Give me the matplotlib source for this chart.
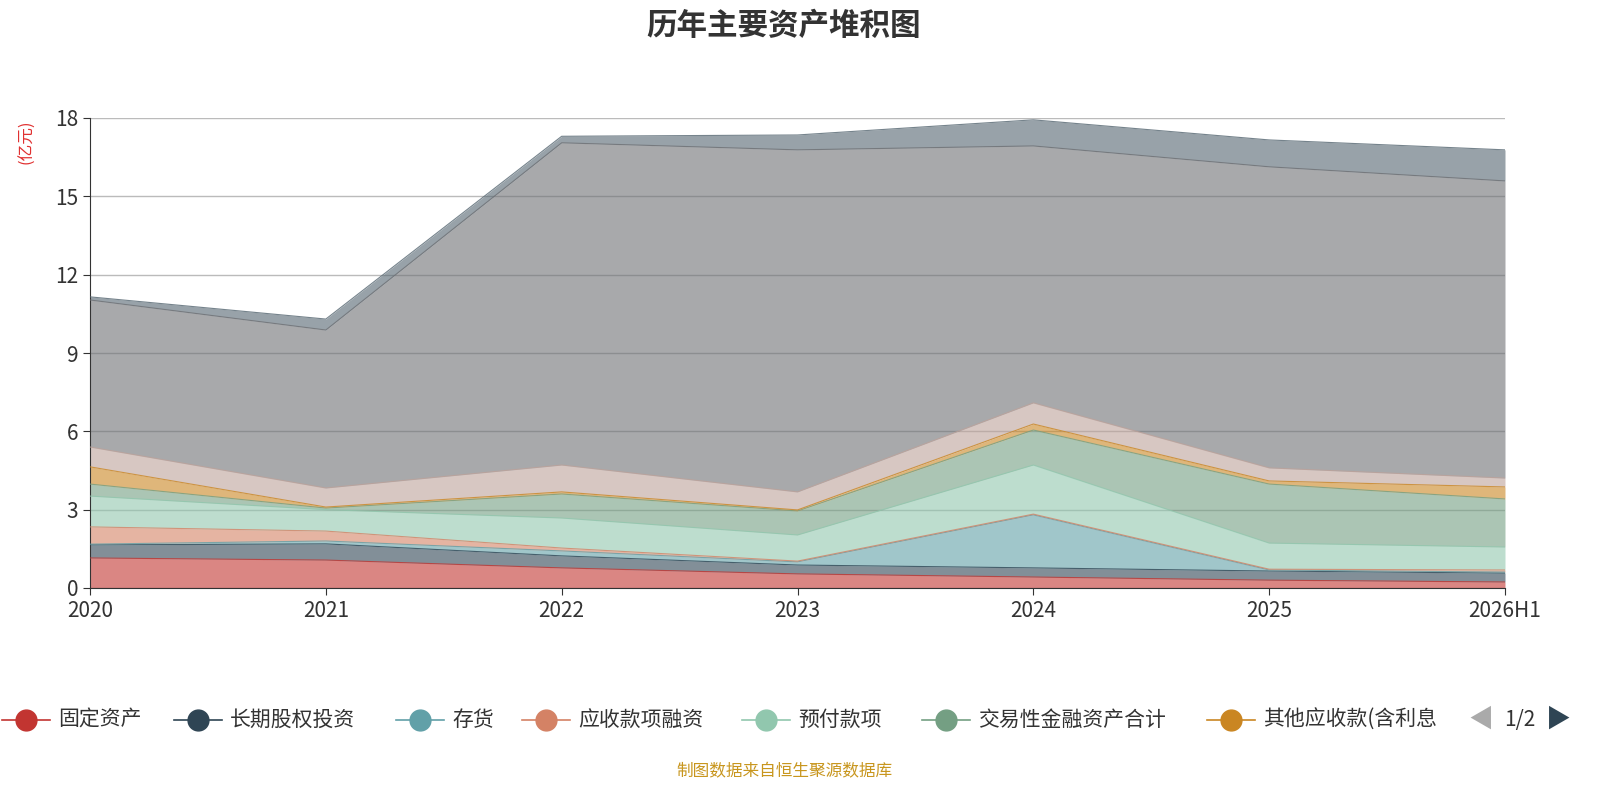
import matplotlib
matplotlib.use("Agg")
import matplotlib.pyplot as plt
import numpy as np
from matplotlib.lines import Line2D

plt.rcParams['font.family'] = ['Noto Sans CJK SC', 'DejaVu Sans']

years = ["2020", "2021", "2022", "2023", "2024", "2025", "2026H1"]
# cumulative tops (亿元)
cum = {
    "固定资产":        [1.15, 1.07, 0.77, 0.54, 0.42, 0.30, 0.23],
    "长期股权投资":    [1.65, 1.69, 1.23, 0.88, 0.77, 0.65, 0.57],
    "存货":            [1.68, 1.80, 1.42, 1.00, 2.80, 0.69, 0.61],
    "应收款项融资":    [2.34, 2.18, 1.53, 1.03, 2.83, 0.72, 0.69],
    "预付款项":        [3.52, 3.00, 2.68, 2.03, 4.71, 1.72, 1.57],
    "交易性金融资产合计": [3.98, 3.06, 3.60, 2.95, 6.05, 3.98, 3.41],
    "其他应收款(含利息)": [4.64, 3.10, 3.68, 2.99, 6.28, 4.10, 3.87],
    "应收账款":        [5.40, 3.83, 4.71, 3.68, 7.09, 4.60, 4.21],
    "货币资金":        [11.03, 9.88, 17.05, 16.78, 16.93, 16.13, 15.59],
    "其他":            [11.15, 10.30, 17.30, 17.35, 17.93, 17.16, 16.78],
}
colors = ["#c23531", "#2f4554", "#61a0a8", "#d48265", "#91c7ae", "#749f83",
          "#ca8622", "#bda29a", "#6e7074", "#546570"]

fig = plt.figure(figsize=(16, 8), dpi=100)
ax = fig.add_axes([90/1600, 1-588/800, (1505-90)/1600, 470/800])
x = np.arange(len(years))
prev = np.zeros(len(years))
for (name, vals), c in zip(cum.items(), colors):
    v = np.array(vals)
    ax.fill_between(x, prev, v, color=c, alpha=0.6, lw=0, zorder=2)
    ax.plot(x, v, color=c, lw=0.8, alpha=0.8, zorder=3)
    prev = v

ax.set_xlim(0, len(years)-1)
ax.set_ylim(0, 18)
ax.set_yticks([0, 3, 6, 9, 12, 15, 18])
ax.set_xticks(x)
ax.set_xticklabels(years)
ax.tick_params(labelsize=15, colors="#333333", length=5)
ax.grid(axis="y", color="#bbbbbb", lw=1, zorder=0)
for s in ["top", "right"]:
    ax.spines[s].set_visible(False)
ax.spines["left"].set_color("#333333")
ax.spines["bottom"].set_color("#333333")
ax.text(-0.045, 0.95, "(亿元)", transform=ax.transAxes, rotation=90,
        color="#e03030", fontsize=12, ha="center", va="center")

fig.text(0.49, 0.968, "历年主要资产堆积图", ha="center", va="center",
         fontsize=22, fontweight="bold", color="#333333")

# legend (page 1 of 2)
names = list(cum.keys())[:7]
xs = [0, 172, 394, 520, 740, 920, 1205]
ly = 1 - 720/800
for nm, c, px in zip(names, colors, xs):
    fig.add_artist(Line2D([(px+2)/1600, (px+50)/1600], [ly, ly], color=c, lw=1.2,
                          transform=fig.transFigure))
    fig.add_artist(Line2D([(px+26)/1600], [ly], marker="o", ms=15, color=c,
                          transform=fig.transFigure))
    label = "其他应收款(含利息" if nm.startswith("其他应收") else nm
    fig.text((px+58)/1600, ly, label, fontsize=15, color="#333333", va="center")
fig.text(1481/1600, ly, "◀", fontsize=18, color="#aaaaaa", va="center", ha="center")
fig.text(1520/1600, ly, "1/2", fontsize=15, color="#333333", va="center", ha="center")
fig.text(1558/1600, ly, "▶", fontsize=18, color="#2f4554", va="center", ha="center")

fig.text(0.49, 1-772/800, "制图数据来自恒生聚源数据库", ha="center", va="center",
         fontsize=12, color="#c8961e")

fig.savefig("out.png", dpi=100, facecolor="white")
